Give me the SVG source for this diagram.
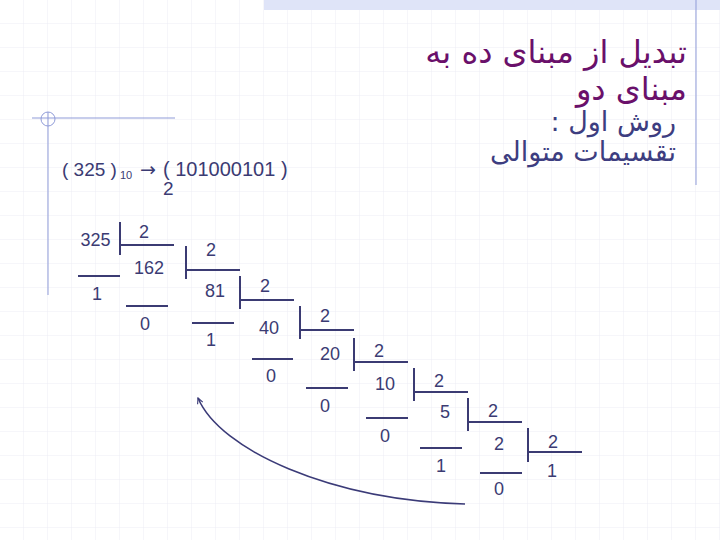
<svg xmlns="http://www.w3.org/2000/svg" width="720" height="540" viewBox="0 0 720 540">
<defs>
<pattern id="grid" width="24" height="24" patternUnits="userSpaceOnUse">
<path d="M24 0V24M0 24H24" fill="none" stroke="#ececf4" stroke-width="1"/>
</pattern>
<marker id="arr" viewBox="0 0 10 10" refX="9" refY="5" markerWidth="7" markerHeight="7" orient="auto" markerUnits="userSpaceOnUse">
<path d="M1 1L9 5L1 9" fill="none" stroke="#3b3b78" stroke-width="1.6"/>
</marker>
<style>
.n{font-family:"Liberation Sans",Arial,sans-serif;font-size:18px;fill:#3b3b73;text-anchor:middle}
.f{font-family:"Liberation Sans",Arial,sans-serif;font-size:19px;fill:#3b3b73}
.t{font-family:"DejaVu Sans",sans-serif;font-size:32px;fill:#6a106a}
.s{font-family:"DejaVu Sans",sans-serif;font-size:27px;fill:#3d3d80}
.b{stroke:#3b3b73;stroke-width:2;fill:none}
.d{stroke:#8f9bd8;stroke-width:1;fill:none}
</style>
</defs>
<rect width="720" height="540" fill="#ffffff"/>
<rect width="720" height="540" fill="url(#grid)"/>
<g id="decor">
<rect x="264" y="0" width="456" height="10" fill="#dfe4f8"/>
<line class="d" x1="696" y1="0" x2="696" y2="185"/>
<line class="d" x1="32" y1="118" x2="175" y2="118"/>
<line class="d" x1="48" y1="112" x2="48" y2="295"/>
<circle class="d" cx="48" cy="119" r="7"/>
</g>
<g id="title">
<text class="t" x="687" y="63" direction="rtl" text-anchor="start">تبدیل از مبنای ده به</text>
<text class="t" x="687" y="100" direction="rtl" text-anchor="start">مبنای دو</text>
<text class="s" x="676" y="131" direction="rtl" text-anchor="start">روش اول :</text>
<text class="s" x="676" y="161" direction="rtl" text-anchor="start">تقسیمات متوالی</text>
</g>
<g id="formula">
<text class="f" x="62" y="176">( 325 )</text>
<text class="f" x="120" y="179" style="font-size:11px">10</text>
<text class="f" x="140" y="176" style="font-family:'DejaVu Sans',sans-serif">→</text>
<text class="f" x="163" y="176" style="font-size:20px">( 101000101 )</text>
<text class="f" x="163" y="195">2</text>
</g>
<g id="numbers">
<text class="n" x="95.5" y="246">325</text>
<text class="n" x="144" y="238">2</text>
<text class="n" x="97" y="300">1</text>
<text class="n" x="149" y="274">162</text>
<text class="n" x="211" y="256">2</text>
<text class="n" x="145" y="330">0</text>
<text class="n" x="215" y="297">81</text>
<text class="n" x="265" y="292">2</text>
<text class="n" x="211" y="346">1</text>
<text class="n" x="269" y="334">40</text>
<text class="n" x="325" y="322">2</text>
<text class="n" x="271" y="382">0</text>
<text class="n" x="330" y="360">20</text>
<text class="n" x="379" y="357">2</text>
<text class="n" x="325" y="412">0</text>
<text class="n" x="385" y="390">10</text>
<text class="n" x="439" y="387">2</text>
<text class="n" x="385" y="442">0</text>
<text class="n" x="445" y="418">5</text>
<text class="n" x="493" y="417">2</text>
<text class="n" x="441" y="472">1</text>
<text class="n" x="499" y="450">2</text>
<text class="n" x="553" y="448">2</text>
<text class="n" x="552" y="477">1</text>
<text class="n" x="499" y="495">0</text>
</g>
<g id="connectors">
<path class="b" d="M120 222V255M120 245H174M186 246V279M186 270H240M240 276V309M240 300H294M300 306V339M300 330H354M354 338V371M354 362H408M414 368V401M414 392H468M468 398V431M468 422H522M528 428V462M528 452H582"/>
<path class="b" d="M78 276H120M126 306H168M192 323H234M252 359H293M306 388H348M366 418H408M420 448H462M480 473H522"/>
<path d="M465 504C330 500 220 450 198 398" fill="none" stroke="#3b3b78" stroke-width="1.6" marker-end="url(#arr)"/>
</g>
</svg>
